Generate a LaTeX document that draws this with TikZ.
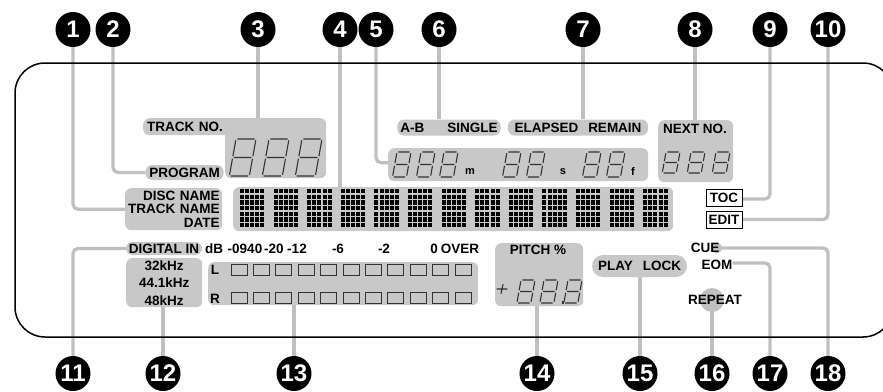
\documentclass[tikz,border=0pt]{standalone}
\usepackage{fontspec}
\setmainfont{Liberation Sans}
\usepackage{tikz}
\usetikzlibrary{positioning,backgrounds}
\definecolor{panelgray}{RGB}{200,200,200}
\definecolor{leadgray} {RGB}{192,192,192}
\definecolor{seggray}  {RGB}{50,50,50}
\newcommand{\lblfont}{\fontsize{13.5}{13.5}\selectfont\bfseries}
% seven segment digit: top-left x, y, width, height
\newcommand{\segdigit}[4]{%
  \begin{scope}[shift={(#1,#2)},xslant=0.18]
    \draw[segline] (1.6,0) -- (#3-1.6,0)
      (1.6,#4/2) -- (#3-1.6,#4/2)
      (1.6,#4) -- (#3-1.6,#4)
      (0,1.6) -- (0,#4/2-1.6)
      (#3,1.6) -- (#3,#4/2-1.6)
      (0,#4/2+1.6) -- (0,#4-1.6)
      (#3,#4/2+1.6) -- (#3,#4-1.6);
  \end{scope}}

\begin{document}
\begin{tikzpicture}[
  num/.style={circle,fill=black,text=white,minimum size=35,inner sep=0,
              font=\fontsize{24}{24}\selectfont\bfseries},
  lead/.style={line width=3.3,draw=leadgray,rounded corners=5},
  box/.style={fill=panelgray,rounded corners=6,inner sep=0,anchor=north west},
  pill/.style={fill=panelgray,rounded corners=6.5,inner sep=0,font=\lblfont},
  lbl/.style={font=\lblfont,inner sep=0},
  tag/.style={draw=black,line width=0.9,fill=white,font=\lblfont,inner sep=0,
              minimum width=36,minimum height=17},
  segline/.style={draw=seggray,line width=1.1,line cap=round},
  cell/.style={draw=seggray,line width=0.7,fill=panelgray},
  frame/.style={line width=1.5,rounded corners=30},
  x=1pt,y=-1pt
]
\useasboundingbox (0,0) rectangle (883,391);
% Display frame
\draw[frame] (15,63) rectangle (893,337);
% Track number
\node[box,minimum width=101,minimum height=60] (trackbox) at (225,118) {};
\node[pill,anchor=north west,minimum height=17,text width=89,inner xsep=4,
      align=left] (trackno) at (143,118) {TRACK NO.};
\node[pill,minimum width=78,minimum height=15] (program) at (184.5,172.5) {PROGRAM};
\segdigit{236}{139}{20}{37}
\segdigit{269}{139}{20}{37}
\segdigit{302}{139}{20}{37}
% Character display
\node[box,minimum width=97,minimum height=42,text width=92,align=right,
      font=\lblfont] (discname) at (125,188) {DISC NAME\\TRACK NAME\\DATE};
\node[box,minimum width=440,minimum height=44] (dotbox) at (233,187) {};
\foreach \c in {0,...,12}
  \foreach \i in {0,...,4}
    \foreach \j in {0,...,6}
      \fill (240+\c*33.6+\i*5.1,188.8+\j*5.7) rectangle ++(4,4.3);
% Time display
\node[pill,minimum width=99,minimum height=16,inner xsep=3] (abmode)
  at (449,127.5) {A-B\hspace{23pt}SINGLE};
\node[pill,minimum width=140,minimum height=16,inner xsep=3] (timemode)
  at (578,127.5) {ELAPSED\hspace{10pt}REMAIN};
\node[box,minimum width=260,minimum height=33] (timebox) at (388,148) {};
\segdigit{397}{152}{14}{25}
\segdigit{421}{152}{14}{25}
\segdigit{444}{152}{14}{25}
\node[lbl,font=\fontsize{11}{11}\selectfont\bfseries] (min) at (470,172) {m};
\segdigit{507}{152}{14}{25}
\segdigit{531}{152}{14}{25}
\node[lbl,font=\fontsize{11}{11}\selectfont\bfseries] (sec) at (563,172) {s};
\segdigit{587}{152}{14}{25}
\segdigit{611}{152}{14}{25}
\node[lbl,font=\fontsize{11}{11}\selectfont\bfseries] (frm) at (633,172) {f};
% Next number
\node[box,minimum width=75,minimum height=62] (nextno) at (658,120) {};
\node[lbl] (nexttext) at (695,128.5) {NEXT NO.};
\segdigit{666}{152}{14}{21}
\segdigit{691}{152}{14}{21}
\segdigit{716}{152}{14}{21}
\node[tag] (toc) at (724,197.5) {TOC};
\node[tag] (edit) at (724,219.5) {EDIT};
% Level meter
\node[pill,minimum width=76,minimum height=13] (digin) at (164,248.5) {DIGITAL IN};
\foreach \xp/\txt in {214/dB,245/-0940,274/-20,297/-12,338/-6,384/-2,434/0,460/OVER}
  \node[lbl] (scale\xp) at (\xp,249) {\txt};
\node[box,minimum width=76,minimum height=49,align=center,
      font=\fontsize{13.5}{17.5}\selectfont\bfseries] (freq) at (126,258)
  {32kHz\\44.1kHz\\48kHz};
\node[box,minimum width=270,minimum height=43] (meter) at (208,262) {};
\node[lbl] (lch) at (215,270) {L};
\node[lbl] (rch) at (215,299) {R};
\foreach \k in {0,...,10} {
  \draw[cell] (231+\k*22.4,264.5) rectangle ++(16,11);
  \draw[cell] (231+\k*22.4,292.5) rectangle ++(16,11);
}
% Pitch
\node[box,minimum width=88,minimum height=63] (pitch) at (495,243) {};
\node[lbl] (pitchtext) at (538,250) {PITCH \%};
\draw[segline] (497,289) -- (507,289) (503,284.5) -- (501,293.5);
\segdigit{521}{280}{14}{23}
\segdigit{544}{280}{14}{23}
\fill[seggray] (561.5,301) rectangle ++(2.5,2.5);
\segdigit{568}{280}{14}{23}
% Play mode
\node[pill,rounded corners=11,minimum width=95,minimum height=22] (playlock)
  at (639.5,266) {PLAY\hspace{10pt}LOCK};
\node[lbl] (cue) at (705,248) {CUE};
\node[lbl] (eom) at (717,265) {EOM};
\node[lbl] (repeat) at (715,300) {REPEAT};
% Callouts
\foreach \n/\xp in {1/73,2/113,3/258,4/340,5/376,6/439,7/583,8/695,9/770,10/828}
  \node[num] (c\n) at (\xp,29.5) {\n};
\foreach \n/\xp in {11/73,12/163,13/294,14/537,15/640,16/712,17/770,18/828}
  \node[num] (c\n) at (\xp,373.5) {\n};
\begin{scope}[on background layer]
\draw[lead] (c1.south) |- (discname.west);
\draw[lead] (c2.south) |- (program.west);
\draw[lead] (c3.south) -- (c3.south |- trackbox.north);
\draw[lead] (c4.south) -- (c4.south |- dotbox.north);
\draw[lead] (c5.south) |- ([yshift=2pt]timebox.west);
\draw[lead] (c6.south) -- (c6.south |- abmode.north);
\draw[lead] (c7.south) -- (c7.south |- timemode.north);
\draw[lead] (c8.south) -- (c8.south |- nextno.north);
\draw[lead] (c9.south) |- ([yshift=-1.5pt]toc.east);
\draw[lead] (c10.south) |- (edit.east);
\draw[lead] (c11.north) |- (digin.west);
\draw[lead] (c12.north) -- (c12.north |- freq.south);
\draw[lead] (c13.north) -- (c13.north |- meter.south);
\draw[lead] (c14.north) -- (c14.north |- pitch.south);
\draw[lead] (c15.north) -- (c15.north |- playlock.south);
\fill[leadgray] ([xshift=-3pt]repeat.center) circle (12);
\draw[lead] (c16.north) -- (c16.north |- repeat.center);
\draw[lead] (c17.north) |- ([yshift=2pt]eom.east);
\fill[leadgray] ([xshift=-3pt]cue.east) circle (5.5);
\draw[lead] (c18.north) |- (cue.east);
\end{scope}
\end{tikzpicture}
\end{document}
